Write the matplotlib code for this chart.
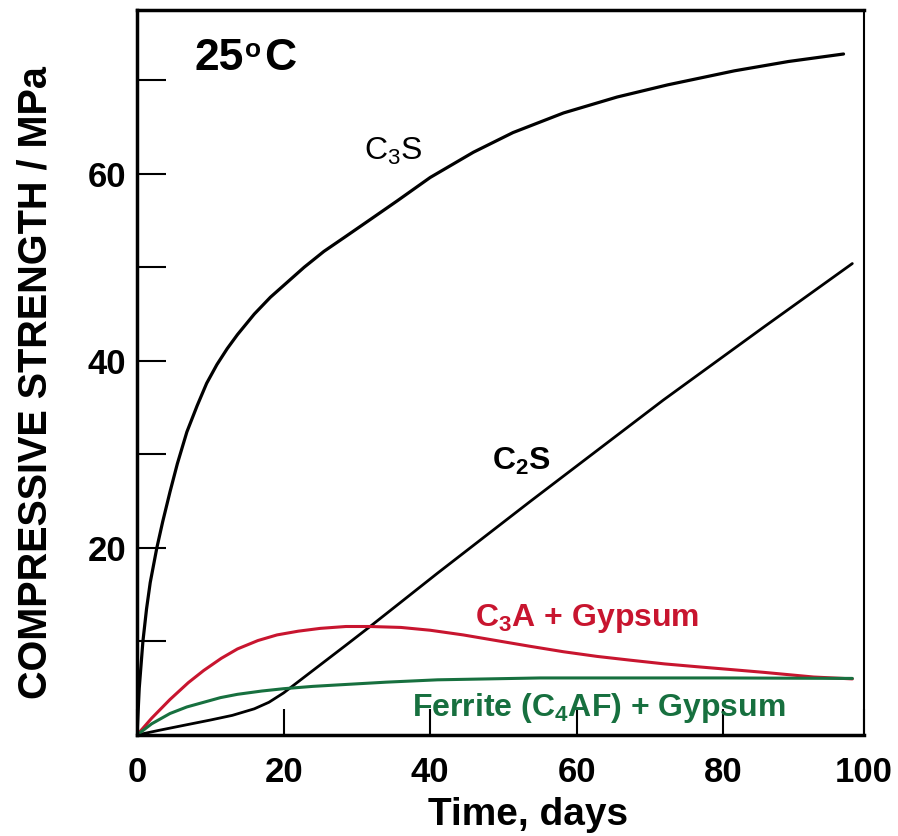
import matplotlib
matplotlib.use("Agg")
import matplotlib.pyplot as plt

# font setup - Arial-like look
plt.rcParams['font.family'] = ['Liberation Sans', 'DejaVu Sans']
plt.rcParams['mathtext.fontset'] = 'custom'
plt.rcParams['mathtext.rm'] = 'Liberation Sans'
plt.rcParams['mathtext.bf'] = 'Liberation Sans:bold'

# data (days, MPa)
c3s_days = [0, 0.3, 0.8, 1.3, 1.8, 2.7, 3.5, 4.5, 5.5, 6.8, 8.2, 9.5, 10.9, 12.3,
            13.7, 16, 18.2, 20.5, 22.8, 25.5, 28.3, 32, 35.5, 40, 45.9, 51.3,
            58.2, 65.5, 72.4, 81.5, 88.9, 96.4]
c3s_mpa = [0, 5, 10, 13.5, 16.3, 20, 22.8, 26, 29, 32.4, 35.2, 37.6, 39.6, 41.3,
           42.8, 45, 46.8, 48.4, 50, 51.7, 53.2, 55.2, 57.1, 59.6, 62.3, 64.4,
           66.5, 68.2, 69.5, 71.0, 72.0, 72.8]

c2s_days = [0, 3, 6.8, 10, 13, 16, 18, 20, 22, 24, 26, 28.5, 31.8, 36, 41,
            53.7, 71.8, 85.5, 97.6]
c2s_mpa = [0, 0.5, 1.1, 1.6, 2.1, 2.8, 3.5, 4.5, 5.7, 6.9, 8.1, 9.6, 11.6, 14.2,
           17.3, 25.0, 35.8, 43.6, 50.4]

c3a_days = [0, 2, 4.5, 7, 9.1, 11.5, 13.7, 16.5, 19.1, 22, 25, 28.5, 31.8, 36, 40,
            44.5, 49, 53.5, 58.2, 62.8, 67.3, 72, 76.4, 81, 85.5, 92.3, 97.6]
c3a_mpa = [0, 1.8, 3.8, 5.6, 6.9, 8.2, 9.2, 10.1, 10.7, 11.1, 11.4, 11.6, 11.6,
           11.5, 11.2, 10.7, 10.1, 9.5, 8.9, 8.4, 8.0, 7.6, 7.3, 7.0, 6.7, 6.2, 6.0]

c4af_days = [0, 2, 4.5, 6.8, 9.1, 11.4, 13.7, 17, 20, 24, 27.3, 34, 41, 48, 55,
             67.3, 80, 97.6]
c4af_mpa = [0, 1.2, 2.3, 3.0, 3.5, 4.0, 4.35, 4.7, 4.95, 5.2, 5.35, 5.65, 5.9,
            6.0, 6.1, 6.1, 6.1, 6.05]

x_ticks = [0, 20, 40, 60, 80, 99.2]
x_tick_labels = ['0', '20', '40', '60', '80', '100']
y_major = [20, 40, 60]
y_minor = [10, 30, 50, 70]

red = '#c8152f'
green = '#17703f'

fig = plt.figure(figsize=(8.98, 8.36), dpi=100)
ax = fig.add_axes([0.1526, 0.1208, 0.8096, 0.8672])

line_kw = dict(solid_joinstyle='round', solid_capstyle='round')
ax.plot(c3s_days, c3s_mpa, color='black', lw=2.3, **line_kw)
ax.plot(c2s_days, c2s_mpa, color='black', lw=2.0, **line_kw)
ax.plot(c3a_days, c3a_mpa, color=red, lw=2.2, **line_kw)
ax.plot(c4af_days, c4af_mpa, color=green, lw=2.2, **line_kw)

ax.set_xlim(0, 99.2)
ax.set_ylim(0, 77.5)

# ticks point inwards
ax.set_xticks(x_ticks)
ax.set_xticklabels(x_tick_labels)
ax.set_yticks(y_major)
ax.set_yticks(y_minor, minor=True)
ax.tick_params(axis='x', direction='in', length=19, width=1.5, pad=15,
               labelsize=25)
ax.tick_params(axis='y', which='both', direction='in', length=21, width=1.5,
               pad=8, labelsize=25)
for lab in ax.get_xticklabels() + ax.get_yticklabels():
    lab.set_fontweight('bold')

for side in ['left', 'bottom', 'top']:
    ax.spines[side].set_linewidth(2.5)
ax.spines['right'].set_linewidth(1.5)

ax.set_xlabel('Time, days', fontsize=28, fontweight='bold', va='baseline')
ax.xaxis.set_label_coords(0.538, -0.124)
ax.set_ylabel('COMPRESSIVE STRENGTH / MPa', fontsize=28.5, fontweight='bold',
              va='center')
ax.yaxis.set_label_coords(-0.140, 0.486)

# temperature label: "25", small raised "o", "C"
ax.text(7.9, 71.1, '25', fontsize=32, fontweight='bold', ha='left', va='baseline')
ax.annotate('o', xy=(7.9, 71.1), xytext=(36, 9.4), textcoords='offset points',
            fontsize=19, fontweight='bold', ha='left', va='baseline')
ax.annotate('C', xy=(7.9, 71.1), xytext=(50, 0), textcoords='offset points',
            fontsize=32, fontweight='bold', ha='left', va='baseline')

# curve labels
ax.text(31.0, 61.5, r'C$_3$S', fontsize=23, ha='left', va='baseline')
ax.text(48.4, 28.4, r'C$_\mathbf{2}$S', fontsize=23, fontweight='bold',
        ha='left', va='baseline')
ax.text(46.1, 11.7, r'C$_\mathbf{3}$A + Gypsum', fontsize=23, fontweight='bold',
        color=red, ha='left', va='baseline')
ax.text(37.5, 2.0, r'Ferrite (C$_\mathbf{4}$AF) + Gypsum', fontsize=23,
        fontweight='bold', color=green, ha='left', va='baseline')

fig.savefig('out.png', dpi=100)
